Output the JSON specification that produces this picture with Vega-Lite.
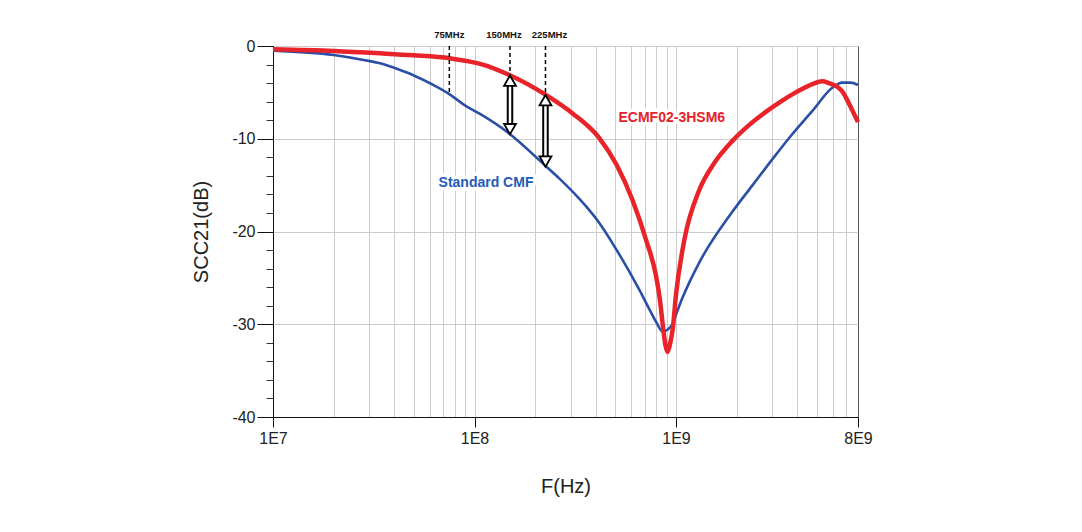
{
  "$schema": "https://vega.github.io/schema/vega-lite/v6.json",
  "width": 585,
  "height": 371,
  "autosize": {"type": "none"},
  "padding": {"left": 273, "top": 46, "right": 224, "bottom": 115},
  "background": "white",
  "config": {
    "view": {"stroke": "#555555", "strokeWidth": 1},
    "font": "Liberation Sans",
    "axis": {"labelFont": "Liberation Sans", "titleFont": "Liberation Sans"}
  },
  "datasets": {
    "blue": [
      {"f": 1e7, "db": -0.5}, {"f": 2e7, "db": -0.97}, {"f": 2.81e7, "db": -1.5}, {"f": 3.4e7, "db": -1.87},
      {"f": 4.27e7, "db": -2.59}, {"f": 4.97e7, "db": -3.15}, {"f": 6.24e7, "db": -4.2}, {"f": 7.27e7, "db": -5.0},
      {"f": 9.12e7, "db": -6.5}, {"f": 1.06e8, "db": -7.3}, {"f": 1.48e8, "db": -9.4}, {"f": 2.27e8, "db": -13.0},
      {"f": 2.64e8, "db": -14.3}, {"f": 3.58e8, "db": -17.3}, {"f": 4.17e8, "db": -19.1}, {"f": 5.24e8, "db": -22.5},
      {"f": 6.58e8, "db": -26.3}, {"f": 7.38e8, "db": -28.4}, {"f": 7.99e8, "db": -29.8}, {"f": 8.59e8, "db": -30.8},
      {"f": 9.06e8, "db": -30.6}, {"f": 9.59e8, "db": -30.0}, {"f": 1.014e9, "db": -28.6}, {"f": 1.074e9, "db": -27.2},
      {"f": 1.3e9, "db": -23.4}, {"f": 1.9e9, "db": -17.9}, {"f": 2.4e9, "db": -15.0}, {"f": 3.01e9, "db": -12.2},
      {"f": 3.71e9, "db": -9.7}, {"f": 4.75e9, "db": -7.0}, {"f": 5.96e9, "db": -4.5}, {"f": 6.68e9, "db": -3.95},
      {"f": 7.35e9, "db": -3.95}, {"f": 8e9, "db": -4.2}
    ],
    "red": [
      {"f": 1e7, "db": -0.36}, {"f": 2e7, "db": -0.54}, {"f": 3.4e7, "db": -0.79}, {"f": 4.97e7, "db": -1.0},
      {"f": 7.55e7, "db": -1.33}, {"f": 1.1e8, "db": -2.0}, {"f": 1.48e8, "db": -3.1}, {"f": 2.27e8, "db": -5.3},
      {"f": 3.08e8, "db": -7.3}, {"f": 4.17e8, "db": -9.95}, {"f": 5.07e8, "db": -12.8}, {"f": 6.08e8, "db": -16.6},
      {"f": 7.1e8, "db": -20.9}, {"f": 7.96e8, "db": -24.8}, {"f": 8.3e8, "db": -27.2}, {"f": 8.65e8, "db": -30.6},
      {"f": 8.85e8, "db": -32.2}, {"f": 9.08e8, "db": -33.0}, {"f": 9.32e8, "db": -32.2}, {"f": 9.62e8, "db": -30.6},
      {"f": 1.0e9, "db": -26.8}, {"f": 1.1e9, "db": -20.9}, {"f": 1.3e9, "db": -15.6}, {"f": 1.55e9, "db": -12.6},
      {"f": 1.91e9, "db": -10.2}, {"f": 2.31e9, "db": -8.5}, {"f": 2.79e9, "db": -7.1}, {"f": 3.25e9, "db": -6.1},
      {"f": 3.93e9, "db": -5.0}, {"f": 4.75e9, "db": -4.1}, {"f": 5.32e9, "db": -3.8}, {"f": 5.74e9, "db": -4.0},
      {"f": 6.31e9, "db": -4.4}, {"f": 6.68e9, "db": -4.9}, {"f": 6.95e9, "db": -5.5}, {"f": 7.48e9, "db": -6.9},
      {"f": 8e9, "db": -8.2}
    ],
    "dash": [
      {"f": 7.5e7, "label": "75MHz", "top": 0, "bottom": -5.2},
      {"f": 1.5e8, "label": "150MHz", "top": 0, "bottom": -3.1},
      {"f": 2.25e8, "label": "225MHz", "top": 0, "bottom": -5.3}
    ],
    "arrow": [
      {"f": 1.5e8, "top": -3.2, "bottom": -9.5},
      {"f": 2.25e8, "top": -5.3, "bottom": -13.0}
    ],
    "lab": [
      {"f": 1.14e8, "db": -14.8, "text": "Standard CMF", "series": "Standard CMF"},
      {"f": 9.53e8, "db": -7.8, "text": "ECMF02-3HSM6", "series": "ECMF02-3HSM6"}
    ]
  },
  "resolve": {"axis": {"x": "independent", "y": "independent"}},
  "layer": [
    {
      "data": {"name": "lab"},
      "mark": {"type": "text", "fontSize": 14, "fontWeight": "bold", "stroke": "white", "strokeWidth": 7, "strokeJoin": "round", "fill": "white", "align": "center", "baseline": "middle"},
      "encoding": {
        "x": {"field": "f", "type": "quantitative", "scale": {"type": "log", "domain": [1e7, 8e9], "nice": false}, "axis": null},
        "y": {"field": "db", "type": "quantitative", "scale": {"domain": [-40, 0], "nice": false}, "axis": null},
        "text": {"field": "text"}
      }
    },
    {
      "data": {"name": "blue"},
      "mark": {"type": "line", "color": "#2b4fa6", "strokeWidth": 2.6, "interpolate": "monotone"},
      "encoding": {
        "x": {"field": "f", "type": "quantitative", "scale": {"type": "log", "domain": [1e7, 8e9], "nice": false},
          "axis": {"orient": "bottom", "values": [2e7, 3e7, 4e7, 5e7, 6e7, 7e7, 8e7, 9e7, 1e8, 2e8, 3e8, 4e8, 5e8, 6e8, 7e8, 8e8, 9e8, 1e9, 2e9, 3e9, 4e9, 5e9, 6e9, 7e9],
            "grid": true, "gridColor": "#cccccc", "gridWidth": 1, "ticks": false, "labels": false, "domain": false, "title": null}},
        "y": {"field": "db", "type": "quantitative", "scale": {"domain": [-40, 0], "nice": false},
          "axis": {"orient": "left", "values": [-2, -4, -6, -8, -12, -14, -16, -18, -22, -24, -26, -28, -32, -34, -36, -38],
            "grid": false, "ticks": true, "tickSize": 7, "tickColor": "#333333", "labels": false, "domain": false, "title": null}}
      }
    },
    {
      "data": {"name": "red"},
      "mark": {"type": "line", "color": "#e8232a", "strokeWidth": 4.5, "interpolate": "monotone"},
      "encoding": {
        "x": {"field": "f", "type": "quantitative", "scale": {"type": "log", "domain": [1e7, 8e9], "nice": false},
          "axis": {"orient": "bottom", "values": [1e7, 1e8, 1e9, 8e9], "grid": false, "tickSize": 10, "tickColor": "#111111",
            "domainColor": "#111111", "labelFontSize": 16, "labelColor": "#222222", "labelPadding": 3, "labelFlush": false, "labelOverlap": false,
            "labelExpr": "datum.value == 1e7 ? '1E7' : datum.value == 1e8 ? '1E8' : datum.value == 1e9 ? '1E9' : '8E9'",
            "title": "F(Hz)", "titleFontSize": 20, "titleFontWeight": "normal", "titleColor": "#222222", "titlePadding": 30}},
        "y": {"field": "db", "type": "quantitative", "scale": {"domain": [-40, 0], "nice": false},
          "axis": {"orient": "left", "values": [0, -10, -20, -30, -40], "grid": true, "gridColor": "#cccccc", "gridWidth": 1,
            "tickSize": 16, "tickColor": "#111111", "domainColor": "#111111", "labelFontSize": 16, "labelColor": "#222222", "labelPadding": 2,
            "labelExpr": "datum.value == 0 ? '0' : '-' + abs(datum.value)",
            "title": "SCC21(dB)", "titleFontSize": 20, "titleFontWeight": "normal", "titleColor": "#222222", "titlePadding": 20}}
      }
    },
    {
      "data": {"name": "dash"},
      "mark": {"type": "rule", "color": "black", "strokeWidth": 1.5, "strokeDash": [4, 3]},
      "encoding": {
        "x": {"field": "f", "type": "quantitative", "scale": {"type": "log", "domain": [1e7, 8e9], "nice": false}, "axis": null},
        "y": {"field": "top", "type": "quantitative", "scale": {"domain": [-40, 0], "nice": false}, "axis": null},
        "y2": {"field": "bottom"}
      }
    },
    {
      "data": {"name": "dash"},
      "transform": [{"filter": "datum.label == '75MHz'"}],
      "mark": {"type": "text", "fontSize": 9.5, "fontWeight": "bold", "color": "#111111", "align": "center", "baseline": "middle", "dy": -11},
      "encoding": {
        "x": {"field": "f", "type": "quantitative", "scale": {"type": "log", "domain": [1e7, 8e9], "nice": false}, "axis": null},
        "y": {"datum": 0, "type": "quantitative", "scale": {"domain": [-40, 0], "nice": false}, "axis": null},
        "text": {"field": "label"}
      }
    },
    {
      "data": {"name": "dash"},
      "transform": [{"filter": "datum.label == '150MHz'"}],
      "mark": {"type": "text", "fontSize": 9.5, "fontWeight": "bold", "color": "#111111", "align": "center", "baseline": "middle", "dy": -11, "dx": -6},
      "encoding": {
        "x": {"field": "f", "type": "quantitative", "scale": {"type": "log", "domain": [1e7, 8e9], "nice": false}, "axis": null},
        "y": {"datum": 0, "type": "quantitative", "scale": {"domain": [-40, 0], "nice": false}, "axis": null},
        "text": {"field": "label"}
      }
    },
    {
      "data": {"name": "dash"},
      "transform": [{"filter": "datum.label == '225MHz'"}],
      "mark": {"type": "text", "fontSize": 9.5, "fontWeight": "bold", "color": "#111111", "align": "center", "baseline": "middle", "dy": -11, "dx": 4},
      "encoding": {
        "x": {"field": "f", "type": "quantitative", "scale": {"type": "log", "domain": [1e7, 8e9], "nice": false}, "axis": null},
        "y": {"datum": 0, "type": "quantitative", "scale": {"domain": [-40, 0], "nice": false}, "axis": null},
        "text": {"field": "label"}
      }
    },
    {
      "data": {"name": "arrow"},
      "mark": {"type": "rule", "color": "black", "strokeWidth": 6.5, "yOffset": 8, "y2Offset": -8},
      "encoding": {
        "x": {"field": "f", "type": "quantitative", "scale": {"type": "log", "domain": [1e7, 8e9], "nice": false}, "axis": null},
        "y": {"field": "top", "type": "quantitative", "scale": {"domain": [-40, 0], "nice": false}, "axis": null},
        "y2": {"field": "bottom"}
      }
    },
    {
      "data": {"name": "arrow"},
      "mark": {"type": "rule", "color": "white", "strokeWidth": 2.5, "yOffset": 7, "y2Offset": -7},
      "encoding": {
        "x": {"field": "f", "type": "quantitative", "scale": {"type": "log", "domain": [1e7, 8e9], "nice": false}, "axis": null},
        "y": {"field": "top", "type": "quantitative", "scale": {"domain": [-40, 0], "nice": false}, "axis": null},
        "y2": {"field": "bottom"}
      }
    },
    {
      "data": {"name": "arrow"},
      "mark": {"type": "point", "shape": "triangle-up", "size": 140, "filled": true, "fill": "white", "stroke": "black", "strokeWidth": 1.8, "opacity": 1, "yOffset": 5},
      "encoding": {
        "x": {"field": "f", "type": "quantitative", "scale": {"type": "log", "domain": [1e7, 8e9], "nice": false}, "axis": null},
        "y": {"field": "top", "type": "quantitative", "scale": {"domain": [-40, 0], "nice": false}, "axis": null}
      }
    },
    {
      "data": {"name": "arrow"},
      "mark": {"type": "point", "shape": "triangle-down", "size": 140, "filled": true, "fill": "white", "stroke": "black", "strokeWidth": 1.8, "opacity": 1, "yOffset": -5},
      "encoding": {
        "x": {"field": "f", "type": "quantitative", "scale": {"type": "log", "domain": [1e7, 8e9], "nice": false}, "axis": null},
        "y": {"field": "bottom", "type": "quantitative", "scale": {"domain": [-40, 0], "nice": false}, "axis": null}
      }
    },
    {
      "data": {"name": "lab"},
      "mark": {"type": "text", "fontSize": 14, "fontWeight": "bold", "align": "center", "baseline": "middle"},
      "encoding": {
        "x": {"field": "f", "type": "quantitative", "scale": {"type": "log", "domain": [1e7, 8e9], "nice": false}, "axis": null},
        "y": {"field": "db", "type": "quantitative", "scale": {"domain": [-40, 0], "nice": false}, "axis": null},
        "text": {"field": "text"},
        "color": {"field": "series", "type": "nominal", "scale": {"domain": ["Standard CMF", "ECMF02-3HSM6"], "range": ["#1f5bb8", "#e52229"]}, "legend": null}
      }
    }
  ]
}
